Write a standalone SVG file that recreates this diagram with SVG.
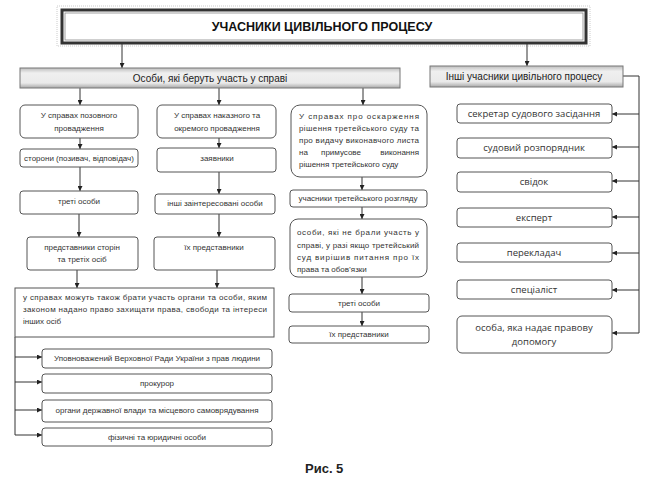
<svg xmlns="http://www.w3.org/2000/svg" width="657" height="483" viewBox="0 0 657 483">
<defs>
<marker id="ah" viewBox="0 0 10 10" refX="10" refY="5" markerWidth="5" markerHeight="5" orient="auto" markerUnits="userSpaceOnUse"><path d="M0,0 L10,5 L0,10 z" fill="#222"/></marker>
<linearGradient id="bar" x1="0" y1="0" x2="0" y2="1"><stop offset="0" stop-color="#bdbdbd"/><stop offset="0.25" stop-color="#efefef"/><stop offset="0.75" stop-color="#eaeaea"/><stop offset="1" stop-color="#a8a8a8"/></linearGradient>
<style>
.bx{fill:#fff;stroke:#555;stroke-width:1}
.t{font-family:"Liberation Sans",Arial,sans-serif;font-size:8px;fill:#333;text-anchor:middle}
.tl{font-family:"Liberation Sans",Arial,sans-serif;font-size:8px;fill:#333}
.te{font-family:"Liberation Sans",Arial,sans-serif;font-size:8px;fill:#333;text-anchor:end}
.tr{font-family:"Open Sans","Liberation Sans",sans-serif;font-size:9.5px;fill:#333;text-anchor:middle}
.bt{font-family:"Liberation Sans",Arial,sans-serif;font-size:10px;fill:#222;text-anchor:middle}
.ln{stroke:#333;stroke-width:1;fill:none}
.ar{stroke:#333;stroke-width:1;fill:none;marker-end:url(#ah)}
</style>
</defs>
<rect width="657" height="483" fill="#fff"/>

<g id="title">
<rect x="57" y="6" width="533" height="40" fill="none" stroke="#ccc" stroke-width="1" stroke-dasharray="1,1"/>
<rect x="62" y="10" width="524" height="33" fill="#fff" stroke="#333" stroke-width="3"/>
<rect x="65" y="13" width="518" height="27" fill="none" stroke="#888" stroke-width="0.8"/>
<text x="322" y="31" style="font-family:'Liberation Sans',Arial,sans-serif;font-size:12.5px;font-weight:bold;fill:#111;text-anchor:middle">УЧАСНИКИ ЦИВІЛЬНОГО ПРОЦЕСУ</text>
</g>

<g id="connectors">
<path class="ar" d="M122,43 V68"/>
<path class="ar" d="M527,43 V66"/>
<path class="ar" d="M80,88 V105"/>
<path class="ar" d="M219,88 V105"/>
<path class="ar" d="M363,88 V105"/>
<path class="ar" d="M80,138 V149"/>
<path class="ar" d="M219,138 V148"/>
<path class="ar" d="M80,167 V191"/>
<path class="ar" d="M219,172 V194"/>
<path class="ar" d="M79,214 V237"/>
<path class="ar" d="M219,214 V237"/>
<path class="ar" d="M77,270 V288"/>
<path class="ar" d="M217,270 V288"/>
<path class="ar" d="M362,177 V190"/>
<path class="ar" d="M362,207 V219"/>
<path class="ar" d="M362,277 V294"/>
<path class="ar" d="M362,312 V326"/>
<path class="ln" d="M15,337 V435"/>
<path class="ar" d="M15,357 H42"/>
<path class="ar" d="M15,382 H42"/>
<path class="ar" d="M15,410 H42"/>
<path class="ar" d="M15,435 H42"/>
<path class="ln" d="M623,76 H639 V333"/>
<path class="ar" d="M639,114 H612"/>
<path class="ar" d="M639,147 H612"/>
<path class="ar" d="M639,181 H612"/>
<path class="ar" d="M639,217 H612"/>
<path class="ar" d="M639,253 H612"/>
<path class="ar" d="M639,290 H612"/>
<path class="ar" d="M639,333 H612"/>
</g>

<g id="bar-left">
<rect x="20" y="68" width="380" height="20" fill="url(#bar)" stroke="#777" stroke-width="1"/>
<text class="bt" x="210" y="82">Особи, які беруть участь у справі</text>
</g>
<g id="bar-right">
<rect x="430" y="66" width="193" height="21" fill="url(#bar)" stroke="#777" stroke-width="1"/>
<text class="bt" x="524" y="80">Інші учасники цивільного процесу</text>
</g>

<g id="n-pozov"><rect class="bx" x="20" y="105" width="118" height="33" rx="5"/>
<text class="t" x="79" y="118">У справах позовного</text><text class="t" x="79" y="131">провадження</text></g>
<g id="n-nakaz"><rect class="bx" x="157" y="105" width="119" height="33" rx="5"/>
<text class="t" x="217" y="118">У справах наказного та</text><text class="t" x="217" y="131">окремого провадження</text></g>

<g id="n-storony"><rect class="bx" x="20" y="149" width="118" height="18" rx="3"/>
<text class="t" x="79" y="161">сторони (позивач, відповідач)</text></g>
<g id="n-zayavnyky"><rect class="bx" x="157" y="148" width="119" height="24" rx="3"/>
<text class="t" x="217" y="161">заявники</text></g>
<g id="n-treti1"><rect class="bx" x="20" y="191" width="118" height="23" rx="3"/>
<text class="t" x="79" y="204">треті особи</text></g>
<g id="n-inshi"><rect class="bx" x="155" y="194" width="120" height="20" rx="3"/>
<text class="t" x="215" y="206">інші заінтересовані особи</text></g>
<g id="n-predst1"><rect class="bx" x="27" y="237" width="111" height="33" rx="3"/>
<text class="t" x="82" y="250">представники сторін</text><text class="t" x="82" y="262">та третіх осіб</text></g>
<g id="n-predst2"><rect class="bx" x="154" y="237" width="121" height="33" rx="3"/>
<text class="t" x="214" y="250">їх представники</text></g>

<g id="n-organy"><rect class="bx" x="15" y="288" width="259" height="49"/>
<text class="tl" x="23" y="300" textLength="244" lengthAdjust="spacing">у справах можуть також брати участь органи та особи, яким</text>
<text class="tl" x="23" y="312" textLength="244" lengthAdjust="spacing">законом надано право захищати права, свободи та інтереси</text>
<text class="tl" x="23" y="324">інших осіб</text></g>

<g id="n-upovn"><rect class="bx" x="42" y="349" width="230" height="19" rx="3"/>
<text class="t" x="157" y="361">Уповноважений Верховної Ради України з прав людини</text></g>
<g id="n-prokuror"><rect class="bx" x="42" y="374" width="230" height="19" rx="3"/>
<text class="t" x="157" y="386">прокурор</text></g>
<g id="n-derzh"><rect class="bx" x="42" y="400" width="230" height="22" rx="3"/>
<text class="t" x="157" y="413">органи державної влади та місцевого самоврядування</text></g>
<g id="n-fiz"><rect class="bx" x="42" y="428" width="230" height="18" rx="3"/>
<text class="t" x="157" y="440">фізичні та юридичні особи</text></g>

<g id="n-tretsud"><rect class="bx" x="291" y="105" width="136" height="72" rx="9"/>
<text class="tl" x="299" y="119" textLength="120" lengthAdjust="spacing">У  справах  про  оскарження</text>
<text class="tl" x="299" y="131" textLength="120" lengthAdjust="spacing">рішення третейського суду та</text>
<text class="tl" x="299" y="143" textLength="120" lengthAdjust="spacing">про видачу виконавчого листа</text>
<text class="tl" x="299" y="155">на</text><text class="t" x="341" y="155">примусове</text><text class="te" x="419" y="155">виконання</text>
<text class="tl" x="299" y="167">рішення третейського суду</text></g>
<g id="n-uchasn"><rect class="bx" x="290" y="190" width="137" height="17" rx="3"/>
<text class="t" x="358" y="201">учасники третейського розгляду</text></g>
<g id="n-osoby"><rect class="bx" x="290" y="219" width="137" height="58" rx="8"/>
<text class="tl" x="297" y="235" textLength="122" lengthAdjust="spacing">особи,  які  не  брали  участь  у</text>
<text class="tl" x="297" y="248" textLength="122" lengthAdjust="spacing">справі, у разі якщо третейський</text>
<text class="tl" x="297" y="260" textLength="122" lengthAdjust="spacing">суд  вирішив  питання  про  їх</text>
<text class="tl" x="297" y="272">права та обов’язки</text></g>
<g id="n-treti2"><rect class="bx" x="289" y="294" width="140" height="18" rx="3"/>
<text class="t" x="359" y="306">треті особи</text></g>
<g id="n-predst3"><rect class="bx" x="289" y="326" width="140" height="17" rx="3"/>
<text class="t" x="359" y="337">їх представники</text></g>

<g id="n-sekretar"><rect class="bx" x="457" y="104" width="155" height="19" rx="3"/>
<text class="tr" x="534" y="117">секретар судового засідання</text></g>
<g id="n-rozporyad"><rect class="bx" x="457" y="138" width="155" height="20" rx="3"/>
<text class="tr" x="534" y="151">судовий розпорядник</text></g>
<g id="n-svidok"><rect class="bx" x="457" y="172" width="155" height="20" rx="3"/>
<text class="tr" x="534" y="185">свідок</text></g>
<g id="n-ekspert"><rect class="bx" x="457" y="208" width="155" height="19" rx="3"/>
<text class="tr" x="534" y="221">експерт</text></g>
<g id="n-perekl"><rect class="bx" x="457" y="243" width="155" height="19" rx="3"/>
<text class="tr" x="534" y="256">перекладач</text></g>
<g id="n-spec"><rect class="bx" x="457" y="280" width="155" height="19" rx="3"/>
<text class="tr" x="534" y="293">спеціаліст</text></g>
<g id="n-dopomoga"><rect class="bx" x="457" y="316" width="155" height="37" rx="5"/>
<text class="tr" x="534" y="331">особа, яка надає правову</text><text class="tr" x="534" y="345">допомогу</text></g>

<text x="305" y="473" style="font-family:'Liberation Sans',Arial,sans-serif;font-size:13px;font-weight:bold;fill:#222">Рис. 5</text>
</svg>
